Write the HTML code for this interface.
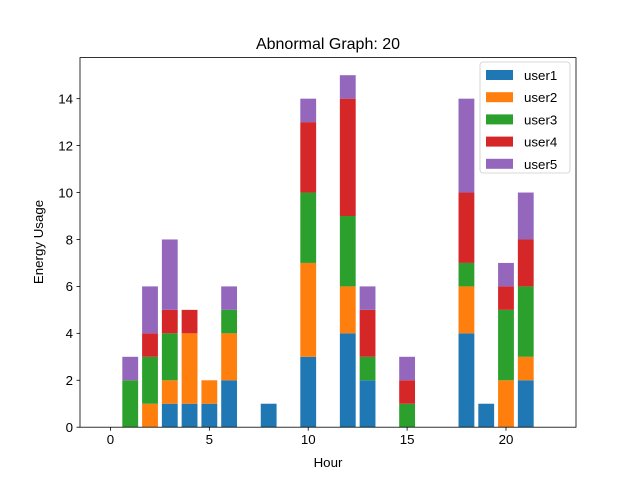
<!DOCTYPE html>
<html><head><meta charset="utf-8"><style>
html,body{margin:0;padding:0;background:#fff;}
svg{display:block;font-family:"Liberation Sans","DejaVu Sans",sans-serif;}
</style></head><body>
<svg id="chart" width="640" height="480" viewBox="0 0 640 480">
<rect x="0" y="0" width="640" height="480" fill="#fff"/>
<text x="328" y="49" font-size="16" text-anchor="middle">Abnormal Graph: 20</text>
<g id="bars"></g>
<g id="axes"></g>
<text x="328" y="467" font-size="13.3" text-anchor="middle">Hour</text>
<text x="0" y="0" font-size="13.3" text-anchor="middle" transform="translate(43,242) rotate(-90)">Energy Usage</text>
<g id="legend"></g>
</svg>
<script>
const hours = [0,1,2,3,4,5,6,7,8,9,10,11,12,13,14,15,16,17,18,19,20,21,22];
const seriesNames = ["user1","user2","user3","user4","user5"];
const user1 = [0,0,0,1,1,1,2,0,1,0,3,0,4,2,0,0,0,0,4,1,0,2,0];
const user2 = [0,0,1,1,3,1,2,0,0,0,4,0,2,0,0,0,0,0,2,0,2,1,0];
const user3 = [0,2,2,2,0,0,1,0,0,0,3,0,3,1,0,1,0,0,1,0,3,3,0];
const user4 = [0,0,1,1,1,0,0,0,0,0,3,0,5,2,0,1,0,0,3,0,1,2,0];
const user5 = [0,1,2,3,0,0,1,0,0,0,1,0,1,1,0,1,0,0,4,0,1,2,0];
const xTicks = [0,5,10,15,20];
const yTicks = [0,2,4,6,8,10,12,14];
const colors = ["#1f77b4","#ff7f0e","#2ca02c","#d62728","#9467bd"];
const series = [user1,user2,user3,user4,user5];

const L=80,R=576,T=57.6,B=427.2;
const xmin=-1.54,xmax=23.54,ymin=0,ymax=15.75;
const xs=v=>L+(v-xmin)/(xmax-xmin)*(R-L);
const ys=v=>B-(v-ymin)/(ymax-ymin)*(B-T);
const NS="http://www.w3.org/2000/svg";
function mk(tag,attrs,parent){const e=document.createElementNS(NS,tag);for(const k in attrs)e.setAttribute(k,attrs[k]);parent.appendChild(e);return e;}
const bars=document.getElementById('bars');
hours.forEach((h,i)=>{
  let base=0;
  series.forEach((s,k)=>{
    const v=s[i];
    if(v>0){
      const r=mk('rect',{x:xs(h-0.4),y:ys(base+v),width:xs(h+0.4)-xs(h-0.4),height:ys(base)-ys(base+v),fill:colors[k]},bars);
      
      
    }
    base+=v;
  });
});
const axes=document.getElementById('axes');
const frame=mk('rect',{x:L,y:T,width:R-L,height:B-T,fill:'none',stroke:'#000','stroke-width':0.8},axes);


xTicks.forEach(t=>{
  const x=xs(t);
  const tk=mk('line',{x1:x,x2:x,y1:B,y2:B+3.5,stroke:'#000','stroke-width':0.8},axes);
  
  
  const tx=mk('text',{x:x,y:B+17,'font-size':13.3,'text-anchor':'middle'},axes);
  tx.textContent=t;
  
  
});
yTicks.forEach(t=>{
  const y=ys(t);
  const tk=mk('line',{x1:L-3.5,x2:L,y1:y,y2:y,stroke:'#000','stroke-width':0.8},axes);
  
  
  const tx=mk('text',{x:L-7,y:y+4.8,'font-size':13.3,'text-anchor':'end'},axes);
  tx.textContent=t;
  
  
});
const lg=document.getElementById('legend');
const box=mk('rect',{x:480,y:62,width:90,height:111,rx:3,fill:'#fff','fill-opacity':0.8,stroke:'#ccc','stroke-width':0.8},lg);


seriesNames.forEach((n,k)=>{
  const y=75+k*22.2;
  const sw=mk('rect',{x:486,y:y-5,width:27,height:10,fill:colors[k]},lg);
  
  
  const tx=mk('text',{x:524,y:y+5,'font-size':13.3},lg);
  tx.textContent=n;
  
  
});
</script>
</body></html>
